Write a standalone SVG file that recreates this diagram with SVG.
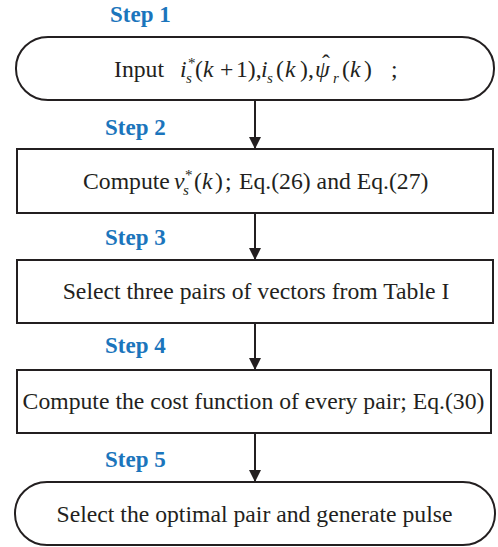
<svg xmlns="http://www.w3.org/2000/svg" width="498" height="547" viewBox="0 0 498 547">
  <defs>
    <marker id="arrow" viewBox="0 0 12 13" refX="12" refY="6" markerWidth="12" markerHeight="13" markerUnits="userSpaceOnUse" orient="auto">
      <path d="M0,0 L12,6 L0,12 Z" fill="#231f20"/>
    </marker>
    <style>
      .box { fill: #ffffff; stroke: #231f20; stroke-width: 2; }
      .edge { fill: none; stroke: #231f20; stroke-width: 2; marker-end: url(#arrow); }
      .step { font-family: "Liberation Serif", "Times New Roman", serif; font-weight: bold; font-size: 23px; fill: #1b75bc; }
      .label { font-family: "Liberation Serif", "Times New Roman", serif; font-size: 23.7px; fill: #231f20; }
      .it { font-style: italic; }
      .small { font-size: 15px; }
    </style>
  </defs>

  <rect width="498" height="547" fill="#ffffff"/>

  <!-- connectors -->
  <g id="connectors">
    <line class="edge" x1="255" y1="100" x2="255" y2="149"/>
    <line class="edge" x1="255" y1="213" x2="255" y2="260"/>
    <line class="edge" x1="255" y1="323" x2="255" y2="370"/>
    <line class="edge" x1="255" y1="433" x2="255" y2="482"/>
  </g>

  <!-- step captions -->
  <g id="step-labels">
    <text class="step" x="110" y="22">Step 1</text>
    <text class="step" x="105" y="135">Step 2</text>
    <text class="step" x="105" y="245">Step 3</text>
    <text class="step" x="105" y="353">Step 4</text>
    <text class="step" x="105" y="467">Step 5</text>
  </g>

  <!-- step 1: input -->
  <g id="step1">
    <rect class="box" x="16" y="37" width="478" height="63" rx="32" ry="31"/>
    <text class="label" y="77">
      <tspan x="114">Input</tspan>
      <tspan class="it" x="180">i</tspan>
      <tspan x="188" y="68" class="small">*</tspan>
      <tspan class="it small" x="186" y="83">s</tspan>
      <tspan x="195" y="77">(</tspan>
      <tspan class="it" x="203">k</tspan>
      <tspan x="220">+</tspan>
      <tspan x="236">1),</tspan>
      <tspan class="it" x="261">i</tspan>
      <tspan class="it small" x="267" y="83">s</tspan>
      <tspan x="276" y="77">(</tspan>
      <tspan class="it" x="285">k</tspan>
      <tspan x="300">),</tspan>
      <tspan class="it" x="315">ψ</tspan>
      <tspan x="322" y="71">ˆ</tspan>
      <tspan class="it small" x="333" y="83">r</tspan>
      <tspan x="342" y="77">(</tspan>
      <tspan class="it" x="350">k</tspan>
      <tspan x="364">)</tspan>
      <tspan x="391">;</tspan>
    </text>
  </g>

  <!-- step 2: reference voltage -->
  <g id="step2">
    <rect class="box" x="17" y="149" width="476" height="64"/>
    <text class="label" y="189">
      <tspan x="83">Compute</tspan>
      <tspan class="it" x="174">v</tspan>
      <tspan class="small" x="185" y="180">*</tspan>
      <tspan class="it small" x="183" y="195">s</tspan>
      <tspan x="194" y="189">(</tspan>
      <tspan class="it" x="202">k</tspan>
      <tspan x="215">)</tspan>
      <tspan x="225">;</tspan>
      <tspan x="239">Eq.(26) and Eq.(27)</tspan>
    </text>
  </g>

  <!-- step 3: candidate vectors -->
  <g id="step3">
    <rect class="box" x="17" y="260" width="476" height="63"/>
    <text class="label" x="256" y="299" text-anchor="middle">Select three pairs of vectors from Table I</text>
  </g>

  <!-- step 4: cost evaluation -->
  <g id="step4">
    <rect class="box" x="17" y="370" width="474" height="63"/>
    <text class="label" x="253.5" y="409" text-anchor="middle">Compute the cost function of every pair; Eq.(30)</text>
  </g>

  <!-- step 5: output -->
  <g id="step5">
    <rect class="box" x="15" y="482" width="480" height="63" rx="32" ry="31"/>
    <text class="label" x="254.5" y="522" text-anchor="middle">Select the optimal pair and generate pulse</text>
  </g>
</svg>
